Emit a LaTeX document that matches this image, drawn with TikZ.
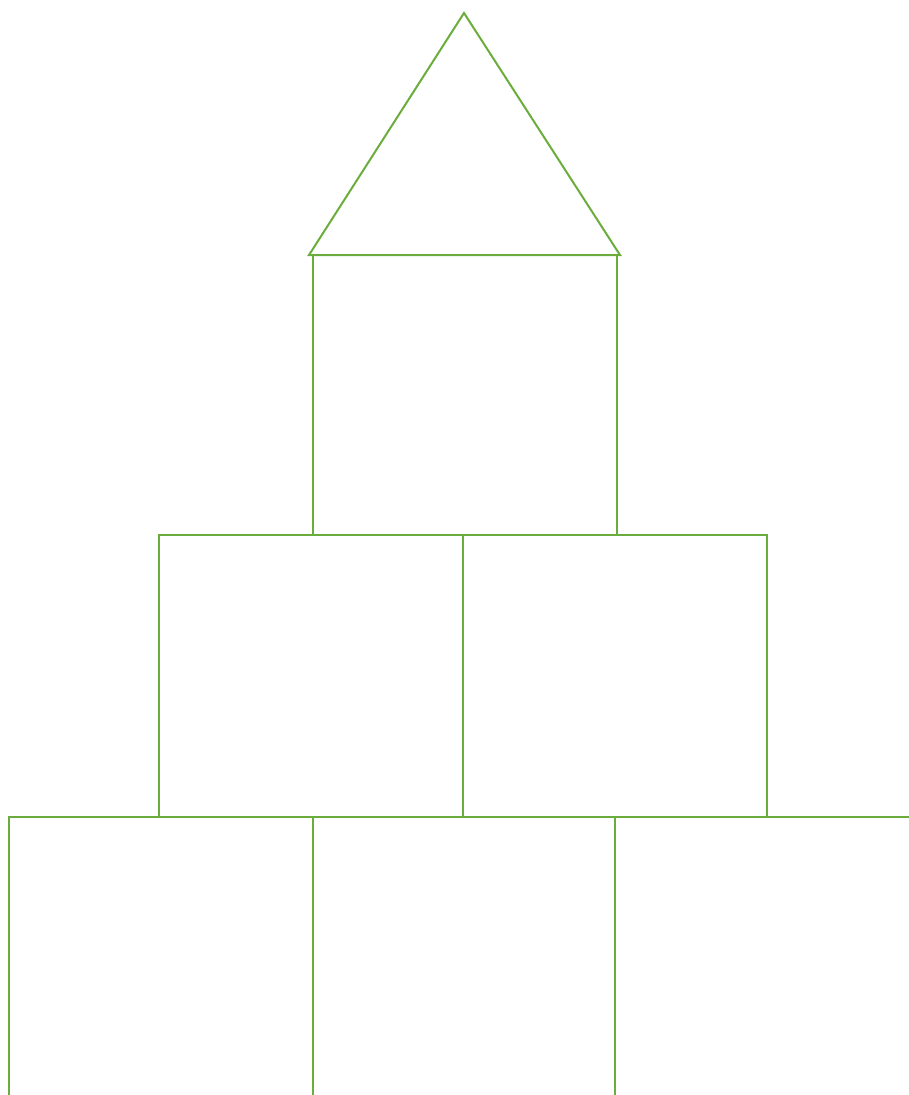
\documentclass[tikz,border=0pt]{standalone}
\usepackage{xcolor}
\usepackage{tikz}

\definecolor{blockgreen}{HTML}{6AAD3D}

\begin{document}
\begin{tikzpicture}[x=1pt,y=-1pt,
            blockline/.style={draw=blockgreen,line width=2pt,line join=miter}]
            \useasboundingbox (0,0) rectangle (909,1095);
            \clip (0,0) rectangle (909,1095);
            % roof
            \draw[blockline] (309,255) -- (464,13) -- (620,255) -- cycle;
            % top block
            \draw[blockline] (313,255) rectangle (617,535);
            % middle row
            \draw[blockline] (159,535) rectangle (463,817);
            \draw[blockline] (463,535) rectangle (767,817);
            % bottom row
            \draw[blockline] (9,817) rectangle (313,1120);
            \draw[blockline] (313,817) rectangle (615,1120);
            \draw[blockline] (615,817) rectangle (940,1120);
        \end{tikzpicture}
\end{document}
